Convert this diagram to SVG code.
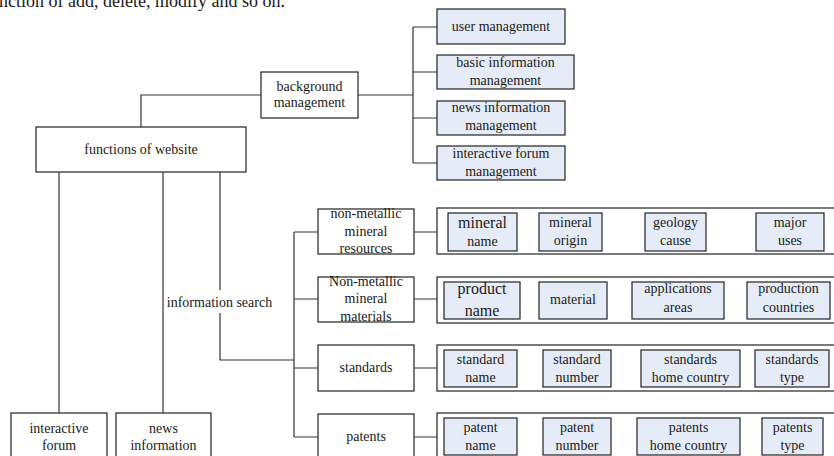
<svg xmlns="http://www.w3.org/2000/svg" width="834" height="456" viewBox="0 0 834 456">
<style>
text{font-family:"Liberation Serif","Times New Roman",serif;font-size:14px;fill:#1a1a1a;text-anchor:middle}
.big{font-size:16px}
.box{fill:#fff;stroke:#222;stroke-width:1.2}
.sub{fill:#e6ecf7;stroke:#222;stroke-width:1.2}
.cont{fill:#fff;stroke:#333;stroke-width:1.3}
.ln{fill:none;stroke:#333;stroke-width:1.2}
</style>
<rect width="834" height="456" fill="#fff"/>
<text x="-1" y="7" style="font-size:18px;text-anchor:start">nction of add, delete, modify and so on.</text>
<g id="connectors">
<path class="ln" d="M141 127V95H261M358 95H413M413 27V163M413 27H437M413 72H437M413 118H437M413 163H437"/>
<path class="ln" d="M59 172V413M163 172V413M220 172V290M220 313V360H294M294 232V437M294 232H318M294 299H318M294 368H318M294 437H318"/>
<path class="ln" d="M414 232H437M414 299H437M414 368H437M414 437H437"/>
</g>
<g id="functions"><rect class="box" x="36" y="127" width="210" height="45"/><text x="141" y="154">functions of website</text></g>
<g id="background"><rect class="box" x="261" y="72" width="97" height="46"/><text x="309.5" y="91">background</text><text x="309.5" y="107">management</text></g>
<g id="user-mgmt"><rect class="sub" x="437" y="9" width="128" height="35"/><text x="501" y="31">user management</text></g>
<g id="basic-mgmt"><rect class="sub" x="437" y="55" width="137" height="34"/><text x="505.5" y="67">basic information</text><text x="505.5" y="85">management</text></g>
<g id="news-mgmt"><rect class="sub" x="437" y="101" width="128" height="34"/><text x="501" y="112">news information</text><text x="501" y="130">management</text></g>
<g id="forum-mgmt"><rect class="sub" x="437" y="146" width="128" height="34"/><text x="501" y="158">interactive forum</text><text x="501" y="176">management</text></g>
<g id="info-search"><text x="219.5" y="307">information search</text></g>
<g id="interactive-forum"><rect class="box" x="11" y="413" width="96" height="60"/><text x="59" y="433">interactive</text><text x="59" y="450">forum</text></g>
<g id="news-information"><rect class="box" x="116" y="413" width="95" height="60"/><text x="163.5" y="433">news</text><text x="163.5" y="450">information</text></g>
<g id="cat-resources"><rect class="box" x="318" y="209" width="96" height="45"/><text x="366" y="218">non-metallic</text><text x="366" y="236">mineral</text><text x="366" y="253">resources</text></g>
<g id="cat-materials"><rect class="box" x="318" y="277" width="96" height="45"/><text x="366" y="286">Non-metallic</text><text x="366" y="303">mineral</text><text x="366" y="321">materials</text></g>
<g id="cat-standards"><rect class="box" x="318" y="345" width="96" height="46"/><text x="366" y="372">standards</text></g>
<g id="cat-patents"><rect class="box" x="318" y="414" width="96" height="60"/><text x="366" y="441">patents</text></g>
<g id="row-resources"><rect class="cont" x="437" y="208" width="410" height="46"/>
<rect class="sub" x="448" y="213" width="69" height="38"/><text class="big" x="482.5" y="228">mineral</text><text x="482.5" y="246">name</text>
<rect class="sub" x="539" y="213" width="63" height="38"/><text x="570.5" y="227">mineral</text><text x="570.5" y="245">origin</text>
<rect class="sub" x="645" y="213" width="61" height="38"/><text x="675.5" y="227">geology</text><text x="675.5" y="245">cause</text>
<rect class="sub" x="756" y="213" width="68" height="38"/><text x="790" y="227">major</text><text x="790" y="245">uses</text></g>
<g id="row-materials"><rect class="cont" x="437" y="277" width="410" height="46"/>
<rect class="sub" x="444" y="282" width="76" height="37"/><text class="big" x="482" y="294">product</text><text class="big" x="482" y="316">name</text>
<rect class="sub" x="539" y="282" width="68" height="37"/><text x="573" y="304">material</text>
<rect class="sub" x="632" y="282" width="92" height="37"/><text x="678" y="293">applications</text><text x="678" y="312">areas</text>
<rect class="sub" x="747" y="282" width="83" height="37"/><text x="788.5" y="293">production</text><text x="788.5" y="312">countries</text></g>
<g id="row-standards"><rect class="cont" x="437" y="345" width="410" height="46"/>
<rect class="sub" x="444" y="350" width="73" height="37"/><text x="480.5" y="364">standard</text><text x="480.5" y="382">name</text>
<rect class="sub" x="543" y="350" width="68" height="37"/><text x="577" y="364">standard</text><text x="577" y="382">number</text>
<rect class="sub" x="641" y="350" width="99" height="37"/><text x="690.5" y="364">standards</text><text x="690.5" y="382">home country</text>
<rect class="sub" x="755" y="350" width="74" height="37"/><text x="792" y="364">standards</text><text x="792" y="382">type</text></g>
<g id="row-patents"><rect class="cont" x="437" y="413" width="410" height="60"/>
<rect class="sub" x="444" y="418" width="73" height="37"/><text x="480.5" y="432">patent</text><text x="480.5" y="450">name</text>
<rect class="sub" x="543" y="418" width="68" height="37"/><text x="577" y="432">patent</text><text x="577" y="450">number</text>
<rect class="sub" x="637" y="418" width="103" height="37"/><text x="688.5" y="432">patents</text><text x="688.5" y="450">home country</text>
<rect class="sub" x="762" y="418" width="61" height="37"/><text x="792.5" y="432">patents</text><text x="792.5" y="450">type</text></g>
</svg>
